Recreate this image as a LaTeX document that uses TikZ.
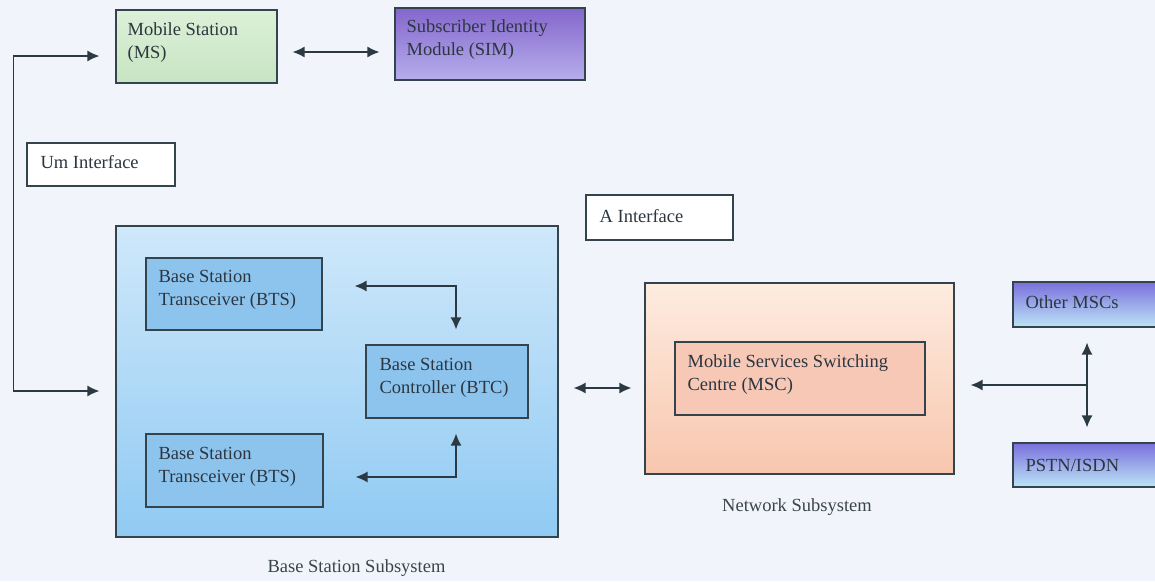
\documentclass[tikz,border=0pt]{standalone}
\usepackage{fontspec}
\setmainfont{Liberation Serif}
\usetikzlibrary{arrows.meta,calc}
\definecolor{bg}{HTML}{F1F4FB}
\definecolor{edge}{HTML}{34444C}
\definecolor{arr}{HTML}{2B3A42}
\definecolor{txtc}{HTML}{2C3640}
\definecolor{capc}{HTML}{3A444C}
\definecolor{msT}{HTML}{DDF0D8}
\definecolor{msB}{HTML}{C6E5C2}
\definecolor{simT}{HTML}{8466CC}
\definecolor{simB}{HTML}{B6AEEC}
\definecolor{bssT}{HTML}{CFE8FA}
\definecolor{bssB}{HTML}{90CAF3}
\definecolor{btsF}{HTML}{8DC4EE}
\definecolor{nssT}{HTML}{FDECE0}
\definecolor{nssB}{HTML}{F8C6AE}
\definecolor{mscF}{HTML}{F7C8B6}
\definecolor{othT}{HTML}{7A70DC}
\definecolor{othM}{HTML}{A8D8F4}
\definecolor{othB}{HTML}{BCE4F6}
\begin{document}
\begin{tikzpicture}[x=1pt,y=-1pt,
  box/.style={draw=edge, line width=1.2pt, rectangle, inner sep=0pt},
  lbl/.style={font=\fontsize{18.5}{23}\selectfont, text=txtc, align=left, inner sep=0pt, anchor=west},
  subcap/.style={font=\fontsize{18.5}{23}\selectfont, text=capc, inner sep=0pt},
  tip/.tip={Latex[length=12pt,width=11pt]},
  conn/.style={draw=arr, line width=1.3pt, tip-tip},
  conn1/.style={draw=arr, line width=1.3pt, -tip}
]
\useasboundingbox[fill=bg] (0,0) rectangle (1155,581);

% top row
\node[box, minimum width=161pt, minimum height=73pt, top color=msT, bottom color=msB] (ms) at (196.5,46.5) {};
\node[lbl] (mst) at ($(ms.west)+(12,-4)$) {Mobile Station\\(MS)};
\node[box, minimum width=190pt, minimum height=72pt, top color=simT, bottom color=simB] (sim) at (490,44) {};
\node[lbl] (simt) at ($(sim.west)+(12,-4)$) {Subscriber Identity\\Module (SIM)};

% interface labels
\node[box, fill=white, minimum width=148pt, minimum height=43pt] (um) at (101,164.5) {};
\node[lbl] (umt) at ($(um.west)+(14,-2)$) {Um Interface};
\node[box, fill=white, minimum width=147pt, minimum height=45pt] (ai) at (659.5,217.5) {};
\node[lbl] (ait) at ($(ai.west)+(14,-1.5)$) {A Interface};

% base station subsystem
\node[box, minimum width=442pt, minimum height=311pt, top color=bssT, bottom color=bssB] (bss) at (337,381.5) {};
\node[box, fill=btsF, minimum width=176pt, minimum height=72pt] (bts1) at (234,294) {};
\node[lbl] (bts1t) at ($(bts1.west)+(13,-4)$) {Base Station\\Transceiver (BTS)};
\node[box, fill=btsF, minimum width=177pt, minimum height=73pt] (bts2) at (234.5,470.5) {};
\node[lbl] (bts2t) at ($(bts2.west)+(13,-4)$) {Base Station\\Transceiver (BTS)};
\node[box, fill=btsF, minimum width=162pt, minimum height=73pt] (btc) at (447,381.5) {};
\node[lbl] (btct) at ($(btc.west)+(14,-4)$) {Base Station\\Controller (BTC)};
\node[subcap] (bsslbl) at (356.5,568) {Base Station Subsystem};

% network subsystem
\node[box, minimum width=309pt, minimum height=191pt, top color=nssT, bottom color=nssB] (nss) at (799.5,378.5) {};
\node[box, fill=mscF, minimum width=250pt, minimum height=73pt] (msc) at (800,378.5) {};
\node[lbl] (msct) at ($(msc.west)+(13,-4)$) {Mobile Services Switching\\Centre (MSC)};
\node[subcap] (nsslbl) at (797,507) {Network Subsystem};

% external
\node[box, minimum width=157pt, minimum height=45pt, top color=othT, middle color=othM, bottom color=othB] (oth) at (1091.5,304.5) {};
\node[lbl] (otht) at ($(oth.west)+(13,-2)$) {Other MSCs};
\node[box, minimum width=157pt, minimum height=44pt, top color=othT, middle color=othM, bottom color=othB] (pstn) at (1091.5,465) {};
\node[lbl] (pstnt) at ($(pstn.west)+(13,0)$) {PSTN/ISDN};

% connectors
\draw[conn] ($(ms.east)+(15,5.5)$) -- ($(sim.west)+(-15,8)$);
\draw[conn] ($(ms.west)+(-16,9.5)$) -- ++(-86,0) |- ($(bss.west)+(-16,9.5)$);
\draw[conn] ($(bts1.east)+(32,-8)$) -| ($(btc.north)+(9,-15)$);
\draw[conn] ($(bts2.east)+(32,6.5)$) -| ($(btc.south)+(9,15)$);
\draw[conn] ($(btc.east)+(45,6.5)$) -- ($(nss.west)+(-13,9.5)$);
\coordinate (j) at (1087,385);
\draw[conn1] (j) -- ($(nss.east)+(16,6.5)$);
\draw[conn] ($(oth.south -| j)+(0,15)$) -- ($(pstn.north -| j)+(0,-15)$);
\end{tikzpicture}
\end{document}
